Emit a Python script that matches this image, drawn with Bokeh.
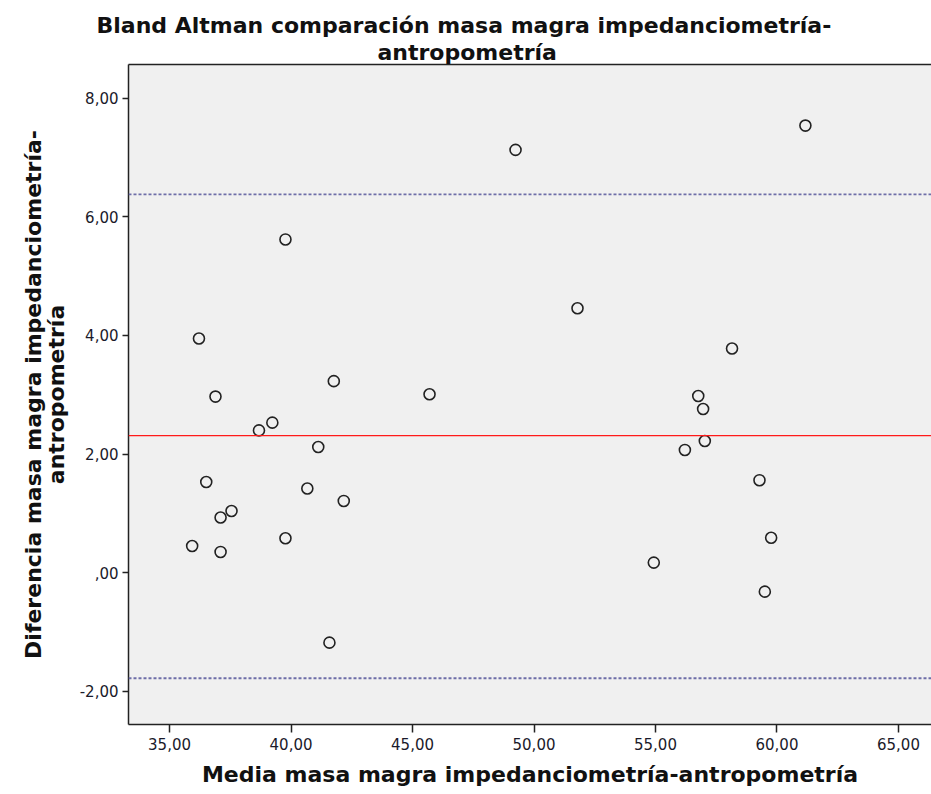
from bokeh.plotting import figure
from bokeh.models import Span, Title, FixedTicker, LinearAxis, Range1d
from bokeh.embed import file_html
from bokeh.resources import INLINE

# Data (mean of both methods, difference)
mean_vals = [39.77, 36.21, 41.76, 36.89, 39.23, 38.68, 41.12, 36.51, 40.67, 42.17,
             37.55, 37.10, 39.77, 35.93, 37.10, 41.58,
             58.15, 56.76, 56.96, 57.03, 56.21, 59.28, 59.76, 54.93, 59.50,
             45.70, 49.24, 51.79, 61.17]
diff_vals = [5.62, 3.95, 3.23, 2.97, 2.53, 2.40, 2.12, 1.53, 1.42, 1.21,
             1.04, 0.93, 0.58, 0.45, 0.35, -1.18,
             3.78, 2.98, 2.76, 2.22, 2.07, 1.56, 0.59, 0.17, -0.32,
             3.01, 7.13, 4.46, 7.54]

mean_diff = 2.31
upper_loa = 6.38
lower_loa = -1.78

x_ticks = [35, 40, 45, 50, 55, 60, 65]
x_tick_labels = ["35,00", "40,00", "45,00", "50,00", "55,00", "60,00", "65,00"]
y_ticks = [-2, 0, 2, 4, 6, 8]
y_tick_labels = ["-2,00", ",00", "2,00", "4,00", "6,00", "8,00"]

title_line1 = "Bland Altman comparación masa magra impedanciometría-"
title_line2 = "antropometría"
x_label = "Media masa magra impedanciometría-antropometría"
y_label = "Diferencia masa magra impedanciometría-\nantropometría"

p = figure(width=931, height=794, output_backend="svg", toolbar_location=None,
           x_range=Range1d(33.31, 66.36), y_range=Range1d(-2.56, 8.57),
           min_border_left=128, min_border_right=0, min_border_top=64, min_border_bottom=70,
           title_location=None)

p.background_fill_color = "#f0f0f0"
p.border_fill_color = "white"
p.outline_line_color = None
p.xgrid.visible = False
p.ygrid.visible = False

label_font = "DejaVu Sans"
bold_size = "22px"

# axes
xa = p.xaxis[0]
xa.ticker = FixedTicker(ticks=x_ticks)
xa.major_label_overrides = {t: l for t, l in zip(x_ticks, x_tick_labels)}
xa.minor_tick_line_color = None
xa.major_tick_out = 8
xa.major_tick_in = 0
xa.axis_line_color = "#222222"
xa.axis_line_width = 1.5
xa.major_tick_line_color = "#222222"
xa.major_tick_line_width = 1.5
xa.major_label_text_font = "DejaVu Sans"
xa.major_label_text_font_size = "15px"
xa.major_label_text_color = "#1a1a2a"
xa.major_label_standoff = 5
xa.axis_label = x_label
xa.axis_label_text_font = label_font
xa.axis_label_text_font_style = "bold"
xa.axis_label_text_font_size = bold_size
xa.axis_label_text_color = "#111111"
xa.axis_label_standoff = 9

ya = p.yaxis[0]
ya.ticker = FixedTicker(ticks=y_ticks)
ya.major_label_overrides = {t: l for t, l in zip(y_ticks, y_tick_labels)}
ya.minor_tick_line_color = None
ya.major_tick_out = 6
ya.major_tick_in = 0
ya.axis_line_color = "#222222"
ya.axis_line_width = 1.5
ya.major_tick_line_color = "#222222"
ya.major_tick_line_width = 1.5
ya.major_label_text_font = "DejaVu Sans"
ya.major_label_text_font_size = "15px"
ya.major_label_text_color = "#1a1a2a"
ya.major_label_standoff = 4
ya.axis_label = y_label
ya.axis_label_text_font = label_font
ya.axis_label_text_font_style = "bold"
ya.axis_label_text_font_size = bold_size
ya.axis_label_text_color = "#111111"
ya.axis_label_text_line_height = 0.9
ya.axis_label_standoff = 8

top_axis = LinearAxis(ticker=FixedTicker(ticks=[]), major_tick_line_color=None,
                      minor_tick_line_color=None, axis_line_color="#222222",
                      axis_line_width=1.5)
p.add_layout(top_axis, "above")

# title (two lines, outermost added last)
p.add_layout(Title(text=title_line2, align="left", offset=249, standoff=0,
                   text_font=label_font, text_font_style="bold", text_font_size=bold_size,
                   text_line_height=0.9, text_color="#111111"), "above")
p.add_layout(Title(text=title_line1, align="left", offset=-32, standoff=0,
                   text_font=label_font, text_font_style="bold", text_font_size=bold_size,
                   text_line_height=0.9, text_color="#111111"), "above")

# reference lines
p.add_layout(Span(location=mean_diff, dimension="width", line_color="#ff1a1a", line_width=1.3))
p.add_layout(Span(location=upper_loa, dimension="width", line_color="#6e6ea8",
                  line_width=1.8, line_dash="3 2"))
p.add_layout(Span(location=lower_loa, dimension="width", line_color="#6e6ea8",
                  line_width=1.8, line_dash="3 2"))

# points
p.scatter(mean_vals, diff_vals, marker="circle", size=11, fill_color=None,
          line_color="#222222", line_width=1.6)

open("out.html", "w").write(file_html(p, INLINE))
